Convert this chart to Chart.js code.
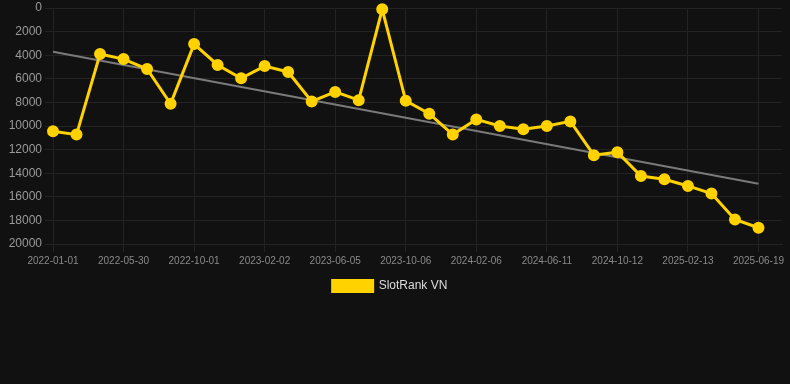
<!DOCTYPE html>
<html>
<head>
<meta charset="utf-8">
<script src="https://cdn.jsdelivr.net/npm/chart.js@4.4.0/dist/chart.umd.min.js"></script>
<style>
    html, body { margin: 0; padding: 0; background: #111111; }
    #wrap { position: relative; width: 790px; height: 302px; }
</style>
</head>
<body>
<div id="wrap"><canvas id="rankChart"></canvas></div>
<script>
// x categories (last one is an empty slot, the chart leaves room after the last point)
const dates = [
    '2022-01-01', '2022-03-12', '2022-04-21', '2022-05-30', '2022-07-11', '2022-08-21',
    '2022-10-01', '2022-11-11', '2022-12-23', '2023-02-02', '2023-03-15', '2023-04-25',
    '2023-06-05', '2023-07-16', '2023-08-26', '2023-10-06', '2023-11-16', '2023-12-27',
    '2024-02-06', '2024-03-18', '2024-04-30', '2024-06-11', '2024-07-22', '2024-09-01',
    '2024-10-12', '2024-11-22', '2025-01-02', '2025-02-13', '2025-03-26', '2025-05-08',
    '2025-06-19', ''
];

// rank per date
const rankValues = [
    10450, 10730, 3900, 4330, 5170, 8120,
    3060, 4830, 5950, 4920, 5420, 7920,
    7110, 7810, 110, 7870, 8960, 10730,
    9440, 10000, 10280, 10000, 9610, 12470,
    12220, 14240, 14520, 15080, 15730, 17920,
    18620
];

// trend line end points
const trendStart = 3710;
const trendEnd = 14890;

const yTicks = { min: 0, max: 20000, step: 2000 };

const seriesName = 'SlotRank VN';
const lineColor = '#ffd200';
const trendColor = '#7a7a7a';
const gridColor = '#232323';

Chart.defaults.font.family = 'Arial, "Liberation Sans", Helvetica, sans-serif';

// trend only has its two ends, the rest is skipped
let trendData = dates.map(() => null);
trendData[0] = trendStart;
trendData[rankValues.length - 1] = trendEnd;

// legend sits a little left of the page centre in the original
const legendNudge = {
    id: 'legendNudge',
    afterLayout(chart) {
        if (chart.legend) chart.legend.right -= 10;
    }
};

var ctx = document.getElementById('rankChart').getContext('2d');
var rankChart = new Chart(ctx, {
    type: 'line',
    data: {
        labels: dates,
        datasets: [
            {
                label: seriesName,
                data: rankValues,
                borderColor: lineColor,
                backgroundColor: lineColor,
                borderWidth: 3,
                pointRadius: 4.5,
                pointHoverRadius: 5,
                pointBackgroundColor: lineColor,
                pointBorderColor: lineColor,
                tension: 0,
                clip: false,
            },
            {
                label: 'trend',
                data: trendData,
                borderColor: trendColor,
                borderWidth: 2,
                pointRadius: 0,
                spanGaps: true,
                fill: false,
            }
        ]
    },
    options: {
        responsive: true,
        maintainAspectRatio: false,
        animation: false,
        scales: {
            x: {
                grid: { color: gridColor },
                border: { color: gridColor },
                ticks: {
                    color: '#8a8a8a',
                    font: { size: 10 },
                    maxRotation: 0,
                    autoSkip: true,
                }
            },
            y: {
                reverse: true,
                min: yTicks.min,
                max: yTicks.max,
                afterFit: scale => { scale.width = 53; },
                grid: { color: gridColor },
                border: { color: gridColor },
                ticks: {
                    stepSize: yTicks.step,
                    color: '#9a9a9a',
                    font: { size: 12, lineHeight: 0.5 },
                    callback: value => String(value),  // no thousands separator
                }
            }
        },
        plugins: {
            legend: {
                position: 'bottom',
                labels: {
                    color: '#dddddd',
                    font: { size: 12 },
                    boxWidth: 40,
                    boxHeight: 11,
                    filter: item => item.text === seriesName,
                }
            },
            tooltip: { enabled: false }
        }
    },
    plugins: [legendNudge]
});
</script>
</body>
</html>
